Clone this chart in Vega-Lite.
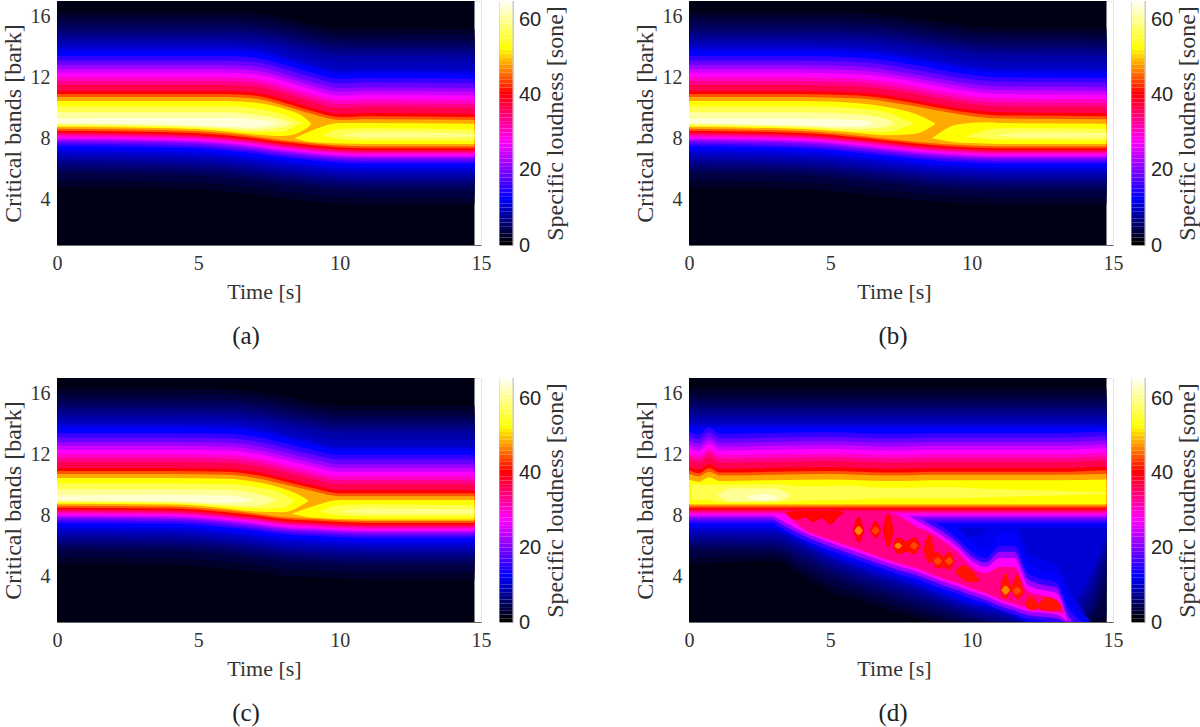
{"$schema":"https://vega.github.io/schema/vega-lite/v6.json","padding":0,"background":"white","columns":2,"spacing":{"row":27,"column":63},
"config":{"view":{"stroke":"#e6e6e6"},"concat":{"spacing":6.5},
"axis":{"grid":false,"labelFont":"Liberation Serif","titleFont":"Liberation Serif","labelFontSize":20,"titleFontSize":22,"labelColor":"#333","titleColor":"#333","titleFontWeight":"normal","domainColor":"#666","ticks":false,"labelFlush":false},
"title":{"font":"Liberation Serif","fontSize":25,"fontWeight":"normal","color":"#222","orient":"bottom","anchor":"middle","offset":22}},
"datasets":{
"bar":[{"v":0,"v2":1},{"v":1,"v2":2},{"v":2,"v2":3},{"v":3,"v2":4},{"v":4,"v2":5},{"v":5,"v2":6},{"v":6,"v2":7},{"v":7,"v2":8},{"v":8,"v2":9},{"v":9,"v2":10},{"v":10,"v2":11},{"v":11,"v2":12},{"v":12,"v2":13},{"v":13,"v2":14},{"v":14,"v2":15},{"v":15,"v2":16},{"v":16,"v2":17},{"v":17,"v2":18},{"v":18,"v2":19},{"v":19,"v2":20},{"v":20,"v2":21},{"v":21,"v2":22},{"v":22,"v2":23},{"v":23,"v2":24},{"v":24,"v2":25},{"v":25,"v2":26},{"v":26,"v2":27},{"v":27,"v2":28},{"v":28,"v2":29},{"v":29,"v2":30},{"v":30,"v2":31},{"v":31,"v2":32},{"v":32,"v2":33},{"v":33,"v2":34},{"v":34,"v2":35},{"v":35,"v2":36},{"v":36,"v2":37},{"v":37,"v2":38},{"v":38,"v2":39},{"v":39,"v2":40},{"v":40,"v2":41},{"v":41,"v2":42},{"v":42,"v2":43},{"v":43,"v2":44},{"v":44,"v2":45},{"v":45,"v2":46},{"v":46,"v2":47},{"v":47,"v2":48},{"v":48,"v2":49},{"v":49,"v2":50},{"v":50,"v2":51},{"v":51,"v2":52},{"v":52,"v2":53},{"v":53,"v2":54},{"v":54,"v2":55},{"v":55,"v2":56},{"v":56,"v2":57},{"v":57,"v2":58},{"v":58,"v2":59},{"v":59,"v2":60},{"v":60,"v2":61},{"v":61,"v2":62},{"v":62,"v2":63},{"v":63,"v2":64},{"v":64,"v2":65},{"v":65,"v2":65.5}],
"a":[{"v":1,"t":0,"lo":1,"hi":17},{"v":1,"t":14.77,"lo":1,"hi":17},
{"v":2,"t":0,"lo":4.8,"hi":16.3},{"v":2,"t":4,"lo":4.7,"hi":16.3},{"v":2,"t":6,"lo":4.5,"hi":16.3},{"v":2,"t":7,"lo":4.3,"hi":16.2},{"v":2,"t":8,"lo":4.05,"hi":15.9},{"v":2,"t":9,"lo":3.85,"hi":15.5},{"v":2,"t":10,"lo":3.7,"hi":15.2},{"v":2,"t":11,"lo":3.65,"hi":15.2},{"v":2,"t":14.77,"lo":3.65,"hi":15.15},
{"v":3,"t":0,"lo":5.25,"hi":15.95},{"v":3,"t":4,"lo":5.15,"hi":15.95},{"v":3,"t":6,"lo":4.95,"hi":15.95},{"v":3,"t":7,"lo":4.75,"hi":15.85},{"v":3,"t":8,"lo":4.5,"hi":15.55},{"v":3,"t":9,"lo":4.3,"hi":15.15},{"v":3,"t":10,"lo":4.15,"hi":14.85},{"v":3,"t":11,"lo":4.1,"hi":14.85},{"v":3,"t":14.77,"lo":4.1,"hi":14.8},
{"v":4,"t":0,"lo":5.7,"hi":15.6},{"v":4,"t":4,"lo":5.6,"hi":15.6},{"v":4,"t":6,"lo":5.4,"hi":15.6},{"v":4,"t":7,"lo":5.2,"hi":15.5},{"v":4,"t":8,"lo":4.95,"hi":15.2},{"v":4,"t":9,"lo":4.75,"hi":14.8},{"v":4,"t":10,"lo":4.6,"hi":14.5},{"v":4,"t":11,"lo":4.55,"hi":14.5},{"v":4,"t":14.77,"lo":4.55,"hi":14.45},
{"v":5,"t":0,"lo":5.95,"hi":15.3},{"v":5,"t":4,"lo":5.85,"hi":15.3},{"v":5,"t":6,"lo":5.65,"hi":15.3},{"v":5,"t":7,"lo":5.45,"hi":15.2},{"v":5,"t":8,"lo":5.2,"hi":14.9},{"v":5,"t":9,"lo":5,"hi":14.5},{"v":5,"t":10,"lo":4.85,"hi":14.2},{"v":5,"t":11,"lo":4.8,"hi":14.2},{"v":5,"t":14.77,"lo":4.8,"hi":14.15},
{"v":6,"t":0,"lo":6.2,"hi":15},{"v":6,"t":4,"lo":6.1,"hi":15},{"v":6,"t":6,"lo":5.9,"hi":15},{"v":6,"t":7,"lo":5.7,"hi":14.9},{"v":6,"t":8,"lo":5.45,"hi":14.6},{"v":6,"t":9,"lo":5.25,"hi":14.2},{"v":6,"t":10,"lo":5.1,"hi":13.9},{"v":6,"t":11,"lo":5.05,"hi":13.9},{"v":6,"t":14.77,"lo":5.05,"hi":13.85},
{"v":7,"t":0,"lo":6.4,"hi":14.75},{"v":7,"t":4,"lo":6.3,"hi":14.75},{"v":7,"t":6,"lo":6.1,"hi":14.75},{"v":7,"t":7,"lo":5.9,"hi":14.65},{"v":7,"t":8,"lo":5.65,"hi":14.35},{"v":7,"t":9,"lo":5.45,"hi":13.95},{"v":7,"t":10,"lo":5.3,"hi":13.65},{"v":7,"t":11,"lo":5.25,"hi":13.65},{"v":7,"t":14.77,"lo":5.25,"hi":13.6},
{"v":8,"t":0,"lo":6.6,"hi":14.5},{"v":8,"t":4,"lo":6.5,"hi":14.5},{"v":8,"t":6,"lo":6.3,"hi":14.5},{"v":8,"t":7,"lo":6.1,"hi":14.4},{"v":8,"t":8,"lo":5.85,"hi":14.1},{"v":8,"t":9,"lo":5.65,"hi":13.7},{"v":8,"t":10,"lo":5.5,"hi":13.4},{"v":8,"t":11,"lo":5.45,"hi":13.4},{"v":8,"t":14.77,"lo":5.45,"hi":13.35},
{"v":9,"t":0,"lo":6.8,"hi":14.25},{"v":9,"t":4,"lo":6.7,"hi":14.25},{"v":9,"t":6,"lo":6.5,"hi":14.25},{"v":9,"t":7,"lo":6.3,"hi":14.15},{"v":9,"t":8,"lo":6.05,"hi":13.8},{"v":9,"t":9,"lo":5.85,"hi":13.3},{"v":9,"t":10,"lo":5.7,"hi":12.95},{"v":9,"t":11,"lo":5.65,"hi":13},{"v":9,"t":14.77,"lo":5.65,"hi":12.95},
{"v":10,"t":0,"lo":7,"hi":14},{"v":10,"t":4,"lo":6.9,"hi":14},{"v":10,"t":6,"lo":6.7,"hi":14},{"v":10,"t":7,"lo":6.5,"hi":13.9},{"v":10,"t":8,"lo":6.25,"hi":13.45},{"v":10,"t":9,"lo":6.05,"hi":12.9},{"v":10,"t":10,"lo":5.9,"hi":12.5},{"v":10,"t":11,"lo":5.85,"hi":12.55},{"v":10,"t":14.77,"lo":5.85,"hi":12.5},
{"v":11,"t":0,"lo":7.15,"hi":13.85},{"v":11,"t":4,"lo":7.05,"hi":13.85},{"v":11,"t":6,"lo":6.85,"hi":13.85},{"v":11,"t":7,"lo":6.65,"hi":13.75},{"v":11,"t":8,"lo":6.4,"hi":13.3},{"v":11,"t":9,"lo":6.2,"hi":12.75},{"v":11,"t":10,"lo":6.05,"hi":12.35},{"v":11,"t":11,"lo":6,"hi":12.4},{"v":11,"t":14.77,"lo":6,"hi":12.35},
{"v":12,"t":0,"lo":7.3,"hi":13.7},{"v":12,"t":4,"lo":7.2,"hi":13.7},{"v":12,"t":6,"lo":7,"hi":13.7},{"v":12,"t":7,"lo":6.8,"hi":13.6},{"v":12,"t":8,"lo":6.55,"hi":13.15},{"v":12,"t":9,"lo":6.35,"hi":12.6},{"v":12,"t":10,"lo":6.2,"hi":12.2},{"v":12,"t":11,"lo":6.15,"hi":12.25},{"v":12,"t":14.77,"lo":6.15,"hi":12.2},
{"v":15,"t":0,"lo":7.5,"hi":13.4},{"v":15,"t":4,"lo":7.4,"hi":13.4},{"v":15,"t":6,"lo":7.2,"hi":13.4},{"v":15,"t":7,"lo":7,"hi":13.3},{"v":15,"t":8,"lo":6.75,"hi":12.85},{"v":15,"t":9,"lo":6.55,"hi":12.3},{"v":15,"t":10,"lo":6.4,"hi":11.9},{"v":15,"t":11,"lo":6.35,"hi":11.95},{"v":15,"t":14.77,"lo":6.35,"hi":11.9},
{"v":18,"t":0,"lo":7.65,"hi":13.1},{"v":18,"t":4,"lo":7.55,"hi":13.1},{"v":18,"t":6,"lo":7.35,"hi":13.1},{"v":18,"t":7,"lo":7.15,"hi":13},{"v":18,"t":8,"lo":6.9,"hi":12.55},{"v":18,"t":9,"lo":6.7,"hi":12},{"v":18,"t":10,"lo":6.55,"hi":11.6},{"v":18,"t":11,"lo":6.5,"hi":11.65},{"v":18,"t":14.77,"lo":6.5,"hi":11.6},
{"v":21,"t":0,"lo":7.8,"hi":12.8},{"v":21,"t":4,"lo":7.7,"hi":12.8},{"v":21,"t":6,"lo":7.5,"hi":12.8},{"v":21,"t":7,"lo":7.3,"hi":12.7},{"v":21,"t":8,"lo":7.05,"hi":12.25},{"v":21,"t":9,"lo":6.85,"hi":11.7},{"v":21,"t":10,"lo":6.7,"hi":11.3},{"v":21,"t":11,"lo":6.65,"hi":11.35},{"v":21,"t":14.77,"lo":6.65,"hi":11.3},
{"v":24,"t":0,"lo":7.9,"hi":12.55},{"v":24,"t":4,"lo":7.8,"hi":12.55},{"v":24,"t":6,"lo":7.6,"hi":12.55},{"v":24,"t":7,"lo":7.4,"hi":12.45},{"v":24,"t":8,"lo":7.15,"hi":12},{"v":24,"t":9,"lo":6.95,"hi":11.45},{"v":24,"t":10,"lo":6.8,"hi":11.05},{"v":24,"t":11,"lo":6.75,"hi":11.1},{"v":24,"t":14.77,"lo":6.75,"hi":11.05},
{"v":27,"t":0,"lo":8,"hi":12.3},{"v":27,"t":4,"lo":7.9,"hi":12.3},{"v":27,"t":6,"lo":7.7,"hi":12.3},{"v":27,"t":7,"lo":7.5,"hi":12.2},{"v":27,"t":8,"lo":7.25,"hi":11.75},{"v":27,"t":9,"lo":7.05,"hi":11.2},{"v":27,"t":10,"lo":6.9,"hi":10.8},{"v":27,"t":11,"lo":6.85,"hi":10.85},{"v":27,"t":14.77,"lo":6.85,"hi":10.8},
{"v":30,"t":0,"lo":8.1,"hi":12},{"v":30,"t":4,"lo":8,"hi":12},{"v":30,"t":6,"lo":7.8,"hi":12},{"v":30,"t":7,"lo":7.6,"hi":11.9},{"v":30,"t":8,"lo":7.35,"hi":11.45},{"v":30,"t":9,"lo":7.15,"hi":10.9},{"v":30,"t":10,"lo":7,"hi":10.5},{"v":30,"t":11,"lo":6.95,"hi":10.55},{"v":30,"t":14.77,"lo":6.95,"hi":10.5},
{"v":33,"t":0,"lo":8.2,"hi":11.75},{"v":33,"t":4,"lo":8.1,"hi":11.75},{"v":33,"t":6,"lo":7.9,"hi":11.75},{"v":33,"t":7,"lo":7.7,"hi":11.65},{"v":33,"t":8,"lo":7.45,"hi":11.2},{"v":33,"t":9,"lo":7.25,"hi":10.65},{"v":33,"t":10,"lo":7.1,"hi":10.25},{"v":33,"t":11,"lo":7.05,"hi":10.3},{"v":33,"t":14.77,"lo":7.05,"hi":10.25},
{"v":36,"t":0,"lo":8.28,"hi":11.5},{"v":36,"t":4,"lo":8.18,"hi":11.5},{"v":36,"t":6,"lo":7.98,"hi":11.5},{"v":36,"t":7,"lo":7.78,"hi":11.4},{"v":36,"t":8,"lo":7.53,"hi":10.95},{"v":36,"t":9,"lo":7.33,"hi":10.4},{"v":36,"t":10,"lo":7.18,"hi":10},{"v":36,"t":11,"lo":7.13,"hi":10.05},{"v":36,"t":14.77,"lo":7.13,"hi":10},
{"v":40,"t":0,"lo":8.37,"hi":11.1},{"v":40,"t":4,"lo":8.27,"hi":11.1},{"v":40,"t":6,"lo":8.07,"hi":11.1},{"v":40,"t":7,"lo":7.87,"hi":11},{"v":40,"t":8,"lo":7.62,"hi":10.55},{"v":40,"t":9,"lo":7.42,"hi":10},{"v":40,"t":10,"lo":7.27,"hi":9.6},{"v":40,"t":11,"lo":7.22,"hi":9.65},{"v":40,"t":14.77,"lo":7.22,"hi":9.6},
{"v":44,"t":0,"lo":8.5,"hi":10.9},{"v":44,"t":4,"lo":8.4,"hi":10.9},{"v":44,"t":6,"lo":8.2,"hi":10.9},{"v":44,"t":7,"lo":8,"hi":10.8},{"v":44,"t":8,"lo":7.75,"hi":10.35},{"v":44,"t":9,"lo":7.55,"hi":9.8},{"v":44,"t":10,"lo":7.4,"hi":9.4},{"v":44,"t":11,"lo":7.35,"hi":9.45},{"v":44,"t":14.77,"lo":7.35,"hi":9.4},
{"v":48,"t":0,"lo":8.62,"hi":10.7},{"v":48,"t":4,"lo":8.52,"hi":10.7},{"v":48,"t":6,"lo":8.32,"hi":10.7},{"v":48,"t":7,"lo":8.12,"hi":10.6},{"v":48,"t":8,"lo":7.87,"hi":10.15},{"v":48,"t":9,"lo":7.67,"hi":9.6},{"v":48,"t":10,"lo":7.52,"hi":9.2},{"v":48,"t":11,"lo":7.47,"hi":9.25},{"v":48,"t":14.77,"lo":7.47,"hi":9.2},
{"v":52,"t":0,"lo":8.75,"hi":10.45},{"v":52,"t":4,"lo":8.65,"hi":10.45},{"v":52,"t":6,"lo":8.45,"hi":10.45},{"v":52,"t":7,"lo":8.25,"hi":10.35},{"v":52,"t":8,"lo":8.15,"hi":9.95},{"v":52,"t":8.8,"lo":8.6,"hi":9.3},{"v":52,"t":9,"lo":8.95,"hi":8.95},
{"v":52.1,"t":8.4,"lo":8,"hi":8},{"v":52.1,"t":9,"lo":7.75,"hi":8.5},{"v":52.1,"t":10,"lo":7.65,"hi":9},{"v":52.1,"t":11,"lo":7.62,"hi":9},{"v":52.1,"t":14.77,"lo":7.62,"hi":8.95},
{"v":56,"t":0,"lo":8.82,"hi":10.1},{"v":56,"t":4,"lo":8.72,"hi":10.1},{"v":56,"t":6,"lo":8.55,"hi":10.1},{"v":56,"t":7,"lo":8.4,"hi":9.95},{"v":56,"t":8,"lo":8.45,"hi":9.55},{"v":56,"t":8.5,"lo":8.85,"hi":9.15},{"v":56,"t":8.7,"lo":9,"hi":9},
{"v":56.1,"t":9.4,"lo":8.2,"hi":8.2},{"v":56.1,"t":10,"lo":7.95,"hi":8.6},{"v":56.1,"t":11,"lo":7.85,"hi":8.65},{"v":56.1,"t":14.77,"lo":7.85,"hi":8.55},
{"v":59.1,"t":10,"lo":8.2,"hi":8.2},{"v":59.1,"t":11,"lo":8.05,"hi":8.4},{"v":59.1,"t":13,"lo":8.05,"hi":8.4},{"v":59.1,"t":14.77,"lo":8.1,"hi":8.3},
{"v":60,"t":0,"lo":8.9,"hi":9.7},{"v":60,"t":4,"lo":8.8,"hi":9.7},{"v":60,"t":6,"lo":8.65,"hi":9.7},{"v":60,"t":7,"lo":8.55,"hi":9.55},{"v":60,"t":8,"lo":8.75,"hi":9.2},{"v":60,"t":8.3,"lo":9,"hi":9},
{"v":63,"t":0,"lo":8.98,"hi":9.3},{"v":63,"t":4,"lo":8.9,"hi":9.35},{"v":63,"t":6,"lo":8.75,"hi":9.35},{"v":63,"t":7,"lo":8.7,"hi":9.25},{"v":63,"t":7.8,"lo":9,"hi":9.05}],
"b":[{"v":1,"t":0,"lo":1,"hi":17},{"v":1,"t":14.77,"lo":1,"hi":17},
{"v":2,"t":0,"lo":4.8,"hi":16.3},{"v":2,"t":4,"lo":4.65,"hi":16.3},{"v":2,"t":6,"lo":4.35,"hi":16.22},{"v":2,"t":7,"lo":4.15,"hi":16.08},{"v":2,"t":8,"lo":3.95,"hi":15.85},{"v":2,"t":9,"lo":3.8,"hi":15.6},{"v":2,"t":10,"lo":3.7,"hi":15.35},{"v":2,"t":11,"lo":3.65,"hi":15.25},{"v":2,"t":14.77,"lo":3.65,"hi":15.2},
{"v":3,"t":0,"lo":5.25,"hi":15.95},{"v":3,"t":4,"lo":5.1,"hi":15.95},{"v":3,"t":6,"lo":4.8,"hi":15.87},{"v":3,"t":7,"lo":4.6,"hi":15.73},{"v":3,"t":8,"lo":4.4,"hi":15.5},{"v":3,"t":9,"lo":4.25,"hi":15.25},{"v":3,"t":10,"lo":4.15,"hi":15},{"v":3,"t":11,"lo":4.1,"hi":14.9},{"v":3,"t":14.77,"lo":4.1,"hi":14.85},
{"v":4,"t":0,"lo":5.7,"hi":15.6},{"v":4,"t":4,"lo":5.55,"hi":15.6},{"v":4,"t":6,"lo":5.25,"hi":15.52},{"v":4,"t":7,"lo":5.05,"hi":15.38},{"v":4,"t":8,"lo":4.85,"hi":15.15},{"v":4,"t":9,"lo":4.7,"hi":14.9},{"v":4,"t":10,"lo":4.6,"hi":14.65},{"v":4,"t":11,"lo":4.55,"hi":14.55},{"v":4,"t":14.77,"lo":4.55,"hi":14.5},
{"v":5,"t":0,"lo":5.95,"hi":15.3},{"v":5,"t":4,"lo":5.8,"hi":15.3},{"v":5,"t":6,"lo":5.5,"hi":15.22},{"v":5,"t":7,"lo":5.3,"hi":15.08},{"v":5,"t":8,"lo":5.1,"hi":14.85},{"v":5,"t":9,"lo":4.95,"hi":14.6},{"v":5,"t":10,"lo":4.85,"hi":14.35},{"v":5,"t":11,"lo":4.8,"hi":14.25},{"v":5,"t":14.77,"lo":4.8,"hi":14.2},
{"v":6,"t":0,"lo":6.2,"hi":15},{"v":6,"t":4,"lo":6.05,"hi":15},{"v":6,"t":6,"lo":5.75,"hi":14.92},{"v":6,"t":7,"lo":5.55,"hi":14.78},{"v":6,"t":8,"lo":5.35,"hi":14.55},{"v":6,"t":9,"lo":5.2,"hi":14.3},{"v":6,"t":10,"lo":5.1,"hi":14.05},{"v":6,"t":11,"lo":5.05,"hi":13.95},{"v":6,"t":14.77,"lo":5.05,"hi":13.9},
{"v":7,"t":0,"lo":6.4,"hi":14.75},{"v":7,"t":4,"lo":6.25,"hi":14.75},{"v":7,"t":6,"lo":5.95,"hi":14.67},{"v":7,"t":7,"lo":5.75,"hi":14.53},{"v":7,"t":8,"lo":5.55,"hi":14.3},{"v":7,"t":9,"lo":5.4,"hi":14.05},{"v":7,"t":10,"lo":5.3,"hi":13.8},{"v":7,"t":11,"lo":5.25,"hi":13.7},{"v":7,"t":14.77,"lo":5.25,"hi":13.65},
{"v":8,"t":0,"lo":6.6,"hi":14.5},{"v":8,"t":4,"lo":6.45,"hi":14.5},{"v":8,"t":6,"lo":6.15,"hi":14.42},{"v":8,"t":7,"lo":5.95,"hi":14.28},{"v":8,"t":8,"lo":5.75,"hi":14.05},{"v":8,"t":9,"lo":5.6,"hi":13.8},{"v":8,"t":10,"lo":5.5,"hi":13.55},{"v":8,"t":11,"lo":5.45,"hi":13.45},{"v":8,"t":14.77,"lo":5.45,"hi":13.4},
{"v":9,"t":0,"lo":6.8,"hi":14.25},{"v":9,"t":4,"lo":6.65,"hi":14.25},{"v":9,"t":6,"lo":6.35,"hi":14.16},{"v":9,"t":7,"lo":6.15,"hi":13.99},{"v":9,"t":8,"lo":5.95,"hi":13.72},{"v":9,"t":9,"lo":5.8,"hi":13.42},{"v":9,"t":10,"lo":5.7,"hi":13.15},{"v":9,"t":11,"lo":5.65,"hi":13.02},{"v":9,"t":14.77,"lo":5.65,"hi":12.97},
{"v":10,"t":0,"lo":7,"hi":14},{"v":10,"t":4,"lo":6.85,"hi":14},{"v":10,"t":6,"lo":6.55,"hi":13.9},{"v":10,"t":7,"lo":6.35,"hi":13.7},{"v":10,"t":8,"lo":6.15,"hi":13.4},{"v":10,"t":9,"lo":6,"hi":13.05},{"v":10,"t":10,"lo":5.9,"hi":12.75},{"v":10,"t":11,"lo":5.85,"hi":12.6},{"v":10,"t":14.77,"lo":5.85,"hi":12.55},
{"v":11,"t":0,"lo":7.15,"hi":13.85},{"v":11,"t":4,"lo":7,"hi":13.85},{"v":11,"t":6,"lo":6.7,"hi":13.75},{"v":11,"t":7,"lo":6.5,"hi":13.55},{"v":11,"t":8,"lo":6.3,"hi":13.25},{"v":11,"t":9,"lo":6.15,"hi":12.9},{"v":11,"t":10,"lo":6.05,"hi":12.6},{"v":11,"t":11,"lo":6,"hi":12.45},{"v":11,"t":14.77,"lo":6,"hi":12.4},
{"v":12,"t":0,"lo":7.3,"hi":13.7},{"v":12,"t":4,"lo":7.15,"hi":13.7},{"v":12,"t":6,"lo":6.85,"hi":13.6},{"v":12,"t":7,"lo":6.65,"hi":13.4},{"v":12,"t":8,"lo":6.45,"hi":13.1},{"v":12,"t":9,"lo":6.3,"hi":12.75},{"v":12,"t":10,"lo":6.2,"hi":12.45},{"v":12,"t":11,"lo":6.15,"hi":12.3},{"v":12,"t":14.77,"lo":6.15,"hi":12.25},
{"v":15,"t":0,"lo":7.5,"hi":13.4},{"v":15,"t":4,"lo":7.35,"hi":13.4},{"v":15,"t":6,"lo":7.05,"hi":13.3},{"v":15,"t":7,"lo":6.85,"hi":13.1},{"v":15,"t":8,"lo":6.65,"hi":12.8},{"v":15,"t":9,"lo":6.5,"hi":12.45},{"v":15,"t":10,"lo":6.4,"hi":12.15},{"v":15,"t":11,"lo":6.35,"hi":12},{"v":15,"t":14.77,"lo":6.35,"hi":11.95},
{"v":18,"t":0,"lo":7.65,"hi":13.1},{"v":18,"t":4,"lo":7.5,"hi":13.1},{"v":18,"t":6,"lo":7.2,"hi":13},{"v":18,"t":7,"lo":7,"hi":12.8},{"v":18,"t":8,"lo":6.8,"hi":12.5},{"v":18,"t":9,"lo":6.65,"hi":12.15},{"v":18,"t":10,"lo":6.55,"hi":11.85},{"v":18,"t":11,"lo":6.5,"hi":11.7},{"v":18,"t":14.77,"lo":6.5,"hi":11.65},
{"v":21,"t":0,"lo":7.8,"hi":12.8},{"v":21,"t":4,"lo":7.65,"hi":12.8},{"v":21,"t":6,"lo":7.35,"hi":12.7},{"v":21,"t":7,"lo":7.15,"hi":12.5},{"v":21,"t":8,"lo":6.95,"hi":12.2},{"v":21,"t":9,"lo":6.8,"hi":11.85},{"v":21,"t":10,"lo":6.7,"hi":11.55},{"v":21,"t":11,"lo":6.65,"hi":11.4},{"v":21,"t":14.77,"lo":6.65,"hi":11.35},
{"v":24,"t":0,"lo":7.9,"hi":12.55},{"v":24,"t":4,"lo":7.75,"hi":12.55},{"v":24,"t":6,"lo":7.45,"hi":12.45},{"v":24,"t":7,"lo":7.25,"hi":12.25},{"v":24,"t":8,"lo":7.05,"hi":11.95},{"v":24,"t":9,"lo":6.9,"hi":11.6},{"v":24,"t":10,"lo":6.8,"hi":11.3},{"v":24,"t":11,"lo":6.75,"hi":11.15},{"v":24,"t":14.77,"lo":6.75,"hi":11.1},
{"v":27,"t":0,"lo":8,"hi":12.3},{"v":27,"t":4,"lo":7.85,"hi":12.3},{"v":27,"t":6,"lo":7.55,"hi":12.2},{"v":27,"t":7,"lo":7.35,"hi":12},{"v":27,"t":8,"lo":7.15,"hi":11.7},{"v":27,"t":9,"lo":7,"hi":11.35},{"v":27,"t":10,"lo":6.9,"hi":11.05},{"v":27,"t":11,"lo":6.85,"hi":10.9},{"v":27,"t":14.77,"lo":6.85,"hi":10.85},
{"v":30,"t":0,"lo":8.1,"hi":12},{"v":30,"t":4,"lo":7.95,"hi":12},{"v":30,"t":6,"lo":7.65,"hi":11.9},{"v":30,"t":7,"lo":7.45,"hi":11.7},{"v":30,"t":8,"lo":7.25,"hi":11.4},{"v":30,"t":9,"lo":7.1,"hi":11.05},{"v":30,"t":10,"lo":7,"hi":10.75},{"v":30,"t":11,"lo":6.95,"hi":10.6},{"v":30,"t":14.77,"lo":6.95,"hi":10.55},
{"v":33,"t":0,"lo":8.2,"hi":11.75},{"v":33,"t":4,"lo":8.05,"hi":11.75},{"v":33,"t":6,"lo":7.75,"hi":11.65},{"v":33,"t":7,"lo":7.55,"hi":11.45},{"v":33,"t":8,"lo":7.35,"hi":11.15},{"v":33,"t":9,"lo":7.2,"hi":10.8},{"v":33,"t":10,"lo":7.1,"hi":10.5},{"v":33,"t":11,"lo":7.05,"hi":10.35},{"v":33,"t":14.77,"lo":7.05,"hi":10.3},
{"v":36,"t":0,"lo":8.28,"hi":11.5},{"v":36,"t":4,"lo":8.13,"hi":11.5},{"v":36,"t":6,"lo":7.83,"hi":11.4},{"v":36,"t":7,"lo":7.63,"hi":11.2},{"v":36,"t":8,"lo":7.43,"hi":10.9},{"v":36,"t":9,"lo":7.28,"hi":10.55},{"v":36,"t":10,"lo":7.18,"hi":10.25},{"v":36,"t":11,"lo":7.13,"hi":10.1},{"v":36,"t":14.77,"lo":7.13,"hi":10.05},
{"v":40,"t":0,"lo":8.37,"hi":11.1},{"v":40,"t":4,"lo":8.22,"hi":11.1},{"v":40,"t":6,"lo":7.92,"hi":11},{"v":40,"t":7,"lo":7.72,"hi":10.8},{"v":40,"t":8,"lo":7.52,"hi":10.5},{"v":40,"t":9,"lo":7.37,"hi":10.15},{"v":40,"t":10,"lo":7.27,"hi":9.85},{"v":40,"t":11,"lo":7.22,"hi":9.7},{"v":40,"t":14.77,"lo":7.22,"hi":9.65},
{"v":44,"t":0,"lo":8.5,"hi":10.9},{"v":44,"t":4,"lo":8.35,"hi":10.9},{"v":44,"t":6,"lo":8.05,"hi":10.8},{"v":44,"t":7,"lo":7.85,"hi":10.6},{"v":44,"t":8,"lo":7.65,"hi":10.3},{"v":44,"t":9,"lo":7.5,"hi":9.95},{"v":44,"t":10,"lo":7.4,"hi":9.65},{"v":44,"t":11,"lo":7.35,"hi":9.5},{"v":44,"t":14.77,"lo":7.35,"hi":9.45},
{"v":48,"t":0,"lo":8.62,"hi":10.7},{"v":48,"t":4,"lo":8.47,"hi":10.7},{"v":48,"t":6,"lo":8.17,"hi":10.6},{"v":48,"t":7,"lo":7.97,"hi":10.4},{"v":48,"t":8,"lo":7.77,"hi":10.1},{"v":48,"t":9,"lo":7.62,"hi":9.75},{"v":48,"t":10,"lo":7.52,"hi":9.45},{"v":48,"t":11,"lo":7.47,"hi":9.3},{"v":48,"t":14.77,"lo":7.47,"hi":9.25},
{"v":52,"t":0,"lo":8.75,"hi":10.45},{"v":52,"t":4,"lo":8.6,"hi":10.45},{"v":52,"t":6,"lo":8.35,"hi":10.3},{"v":52,"t":7,"lo":8.2,"hi":10.05},{"v":52,"t":8,"lo":8.3,"hi":9.6},{"v":52,"t":8.7,"lo":8.9,"hi":9},
{"v":52.1,"t":8.6,"lo":8,"hi":8},{"v":52.1,"t":9.5,"lo":7.72,"hi":8.9},{"v":52.1,"t":10.5,"lo":7.65,"hi":9.05},{"v":52.1,"t":11,"lo":7.62,"hi":9},{"v":52.1,"t":14.77,"lo":7.62,"hi":8.95},
{"v":56,"t":0,"lo":8.82,"hi":10.1},{"v":56,"t":4,"lo":8.68,"hi":10.1},{"v":56,"t":6,"lo":8.45,"hi":9.95},{"v":56,"t":7,"lo":8.4,"hi":9.7},{"v":56,"t":7.8,"lo":8.85,"hi":9.1},{"v":56,"t":8,"lo":9,"hi":9},
{"v":56.1,"t":9.8,"lo":8.1,"hi":8.1},{"v":56.1,"t":11,"lo":7.9,"hi":8.65},{"v":56.1,"t":14.77,"lo":7.85,"hi":8.6},
{"v":59.1,"t":10.8,"lo":8.2,"hi":8.2},{"v":59.1,"t":12,"lo":8.05,"hi":8.4},{"v":59.1,"t":14.77,"lo":8.05,"hi":8.35},
{"v":60,"t":0,"lo":8.9,"hi":9.7},{"v":60,"t":4,"lo":8.75,"hi":9.7},{"v":60,"t":6,"lo":8.6,"hi":9.55},{"v":60,"t":7,"lo":8.75,"hi":9.25},{"v":60,"t":7.3,"lo":9,"hi":9},
{"v":63,"t":0,"lo":8.98,"hi":9.3},{"v":63,"t":4,"lo":8.85,"hi":9.3},{"v":63,"t":6,"lo":8.75,"hi":9.2},{"v":63,"t":6.6,"lo":9,"hi":9}],
"c":[{"v":1,"t":0,"lo":1,"hi":17},{"v":1,"t":14.77,"lo":1,"hi":17},
{"v":2,"t":0,"lo":4.8,"hi":16.3},{"v":2,"t":4,"lo":4.75,"hi":16.3},{"v":2,"t":6,"lo":4.5,"hi":16.26},{"v":2,"t":7,"lo":4.3,"hi":16.1},{"v":2,"t":8,"lo":4.05,"hi":15.8},{"v":2,"t":9,"lo":3.95,"hi":15.45},{"v":2,"t":10,"lo":3.85,"hi":15.2},{"v":2,"t":11,"lo":3.8,"hi":15.2},{"v":2,"t":14.77,"lo":3.8,"hi":15.2},
{"v":3,"t":0,"lo":5.25,"hi":15.95},{"v":3,"t":4,"lo":5.2,"hi":15.95},{"v":3,"t":6,"lo":4.95,"hi":15.91},{"v":3,"t":7,"lo":4.75,"hi":15.75},{"v":3,"t":8,"lo":4.5,"hi":15.45},{"v":3,"t":9,"lo":4.4,"hi":15.1},{"v":3,"t":10,"lo":4.3,"hi":14.85},{"v":3,"t":11,"lo":4.25,"hi":14.85},{"v":3,"t":14.77,"lo":4.25,"hi":14.85},
{"v":4,"t":0,"lo":5.7,"hi":15.6},{"v":4,"t":4,"lo":5.65,"hi":15.6},{"v":4,"t":6,"lo":5.4,"hi":15.56},{"v":4,"t":7,"lo":5.2,"hi":15.4},{"v":4,"t":8,"lo":4.95,"hi":15.1},{"v":4,"t":9,"lo":4.85,"hi":14.75},{"v":4,"t":10,"lo":4.75,"hi":14.5},{"v":4,"t":11,"lo":4.7,"hi":14.5},{"v":4,"t":14.77,"lo":4.7,"hi":14.5},
{"v":5,"t":0,"lo":5.95,"hi":15.3},{"v":5,"t":4,"lo":5.9,"hi":15.3},{"v":5,"t":6,"lo":5.65,"hi":15.26},{"v":5,"t":7,"lo":5.45,"hi":15.1},{"v":5,"t":8,"lo":5.2,"hi":14.8},{"v":5,"t":9,"lo":5.1,"hi":14.45},{"v":5,"t":10,"lo":5,"hi":14.2},{"v":5,"t":11,"lo":4.95,"hi":14.2},{"v":5,"t":14.77,"lo":4.95,"hi":14.2},
{"v":6,"t":0,"lo":6.2,"hi":15},{"v":6,"t":4,"lo":6.15,"hi":15},{"v":6,"t":6,"lo":5.9,"hi":14.96},{"v":6,"t":7,"lo":5.7,"hi":14.8},{"v":6,"t":8,"lo":5.45,"hi":14.5},{"v":6,"t":9,"lo":5.35,"hi":14.15},{"v":6,"t":10,"lo":5.25,"hi":13.9},{"v":6,"t":11,"lo":5.2,"hi":13.9},{"v":6,"t":14.77,"lo":5.2,"hi":13.9},
{"v":7,"t":0,"lo":6.4,"hi":14.75},{"v":7,"t":4,"lo":6.35,"hi":14.75},{"v":7,"t":6,"lo":6.1,"hi":14.71},{"v":7,"t":7,"lo":5.9,"hi":14.55},{"v":7,"t":8,"lo":5.65,"hi":14.25},{"v":7,"t":9,"lo":5.55,"hi":13.9},{"v":7,"t":10,"lo":5.45,"hi":13.65},{"v":7,"t":11,"lo":5.4,"hi":13.65},{"v":7,"t":14.77,"lo":5.4,"hi":13.65},
{"v":8,"t":0,"lo":6.6,"hi":14.5},{"v":8,"t":4,"lo":6.55,"hi":14.5},{"v":8,"t":6,"lo":6.3,"hi":14.46},{"v":8,"t":7,"lo":6.1,"hi":14.3},{"v":8,"t":8,"lo":5.85,"hi":14},{"v":8,"t":9,"lo":5.75,"hi":13.65},{"v":8,"t":10,"lo":5.65,"hi":13.4},{"v":8,"t":11,"lo":5.6,"hi":13.4},{"v":8,"t":14.77,"lo":5.6,"hi":13.4},
{"v":9,"t":0,"lo":6.8,"hi":14.25},{"v":9,"t":4,"lo":6.75,"hi":14.25},{"v":9,"t":6,"lo":6.5,"hi":14.2},{"v":9,"t":7,"lo":6.3,"hi":14.02},{"v":9,"t":8,"lo":6.05,"hi":13.67},{"v":9,"t":9,"lo":5.95,"hi":13.27},{"v":9,"t":10,"lo":5.85,"hi":12.97},{"v":9,"t":11,"lo":5.8,"hi":12.97},{"v":9,"t":14.77,"lo":5.8,"hi":12.97},
{"v":10,"t":0,"lo":7,"hi":14},{"v":10,"t":4,"lo":6.95,"hi":14},{"v":10,"t":6,"lo":6.7,"hi":13.95},{"v":10,"t":7,"lo":6.5,"hi":13.75},{"v":10,"t":8,"lo":6.25,"hi":13.35},{"v":10,"t":9,"lo":6.15,"hi":12.9},{"v":10,"t":10,"lo":6.05,"hi":12.55},{"v":10,"t":11,"lo":6,"hi":12.55},{"v":10,"t":14.77,"lo":6,"hi":12.55},
{"v":11,"t":0,"lo":7.15,"hi":13.85},{"v":11,"t":4,"lo":7.1,"hi":13.85},{"v":11,"t":6,"lo":6.85,"hi":13.8},{"v":11,"t":7,"lo":6.65,"hi":13.6},{"v":11,"t":8,"lo":6.4,"hi":13.2},{"v":11,"t":9,"lo":6.3,"hi":12.75},{"v":11,"t":10,"lo":6.2,"hi":12.4},{"v":11,"t":11,"lo":6.15,"hi":12.4},{"v":11,"t":14.77,"lo":6.15,"hi":12.4},
{"v":12,"t":0,"lo":7.3,"hi":13.7},{"v":12,"t":4,"lo":7.25,"hi":13.7},{"v":12,"t":6,"lo":7,"hi":13.65},{"v":12,"t":7,"lo":6.8,"hi":13.45},{"v":12,"t":8,"lo":6.55,"hi":13.05},{"v":12,"t":9,"lo":6.45,"hi":12.6},{"v":12,"t":10,"lo":6.35,"hi":12.25},{"v":12,"t":11,"lo":6.3,"hi":12.25},{"v":12,"t":14.77,"lo":6.3,"hi":12.25},
{"v":15,"t":0,"lo":7.5,"hi":13.4},{"v":15,"t":4,"lo":7.45,"hi":13.4},{"v":15,"t":6,"lo":7.2,"hi":13.35},{"v":15,"t":7,"lo":7,"hi":13.15},{"v":15,"t":8,"lo":6.75,"hi":12.75},{"v":15,"t":9,"lo":6.65,"hi":12.3},{"v":15,"t":10,"lo":6.55,"hi":11.95},{"v":15,"t":11,"lo":6.5,"hi":11.95},{"v":15,"t":14.77,"lo":6.5,"hi":11.95},
{"v":18,"t":0,"lo":7.65,"hi":13.1},{"v":18,"t":4,"lo":7.6,"hi":13.1},{"v":18,"t":6,"lo":7.35,"hi":13.05},{"v":18,"t":7,"lo":7.15,"hi":12.85},{"v":18,"t":8,"lo":6.9,"hi":12.45},{"v":18,"t":9,"lo":6.8,"hi":12},{"v":18,"t":10,"lo":6.7,"hi":11.65},{"v":18,"t":11,"lo":6.65,"hi":11.65},{"v":18,"t":14.77,"lo":6.65,"hi":11.65},
{"v":21,"t":0,"lo":7.8,"hi":12.8},{"v":21,"t":4,"lo":7.75,"hi":12.8},{"v":21,"t":6,"lo":7.5,"hi":12.75},{"v":21,"t":7,"lo":7.3,"hi":12.55},{"v":21,"t":8,"lo":7.05,"hi":12.15},{"v":21,"t":9,"lo":6.95,"hi":11.7},{"v":21,"t":10,"lo":6.85,"hi":11.35},{"v":21,"t":11,"lo":6.8,"hi":11.35},{"v":21,"t":14.77,"lo":6.8,"hi":11.35},
{"v":24,"t":0,"lo":7.9,"hi":12.55},{"v":24,"t":4,"lo":7.85,"hi":12.55},{"v":24,"t":6,"lo":7.6,"hi":12.5},{"v":24,"t":7,"lo":7.4,"hi":12.3},{"v":24,"t":8,"lo":7.15,"hi":11.9},{"v":24,"t":9,"lo":7.05,"hi":11.45},{"v":24,"t":10,"lo":6.95,"hi":11.1},{"v":24,"t":11,"lo":6.9,"hi":11.1},{"v":24,"t":14.77,"lo":6.9,"hi":11.1},
{"v":27,"t":0,"lo":8,"hi":12.3},{"v":27,"t":4,"lo":7.95,"hi":12.3},{"v":27,"t":6,"lo":7.7,"hi":12.25},{"v":27,"t":7,"lo":7.5,"hi":12.05},{"v":27,"t":8,"lo":7.25,"hi":11.65},{"v":27,"t":9,"lo":7.15,"hi":11.2},{"v":27,"t":10,"lo":7.05,"hi":10.85},{"v":27,"t":11,"lo":7,"hi":10.85},{"v":27,"t":14.77,"lo":7,"hi":10.85},
{"v":30,"t":0,"lo":8.1,"hi":12},{"v":30,"t":4,"lo":8.05,"hi":12},{"v":30,"t":6,"lo":7.8,"hi":11.95},{"v":30,"t":7,"lo":7.6,"hi":11.75},{"v":30,"t":8,"lo":7.35,"hi":11.35},{"v":30,"t":9,"lo":7.25,"hi":10.9},{"v":30,"t":10,"lo":7.15,"hi":10.55},{"v":30,"t":11,"lo":7.1,"hi":10.55},{"v":30,"t":14.77,"lo":7.1,"hi":10.55},
{"v":33,"t":0,"lo":8.2,"hi":11.75},{"v":33,"t":4,"lo":8.15,"hi":11.75},{"v":33,"t":6,"lo":7.9,"hi":11.7},{"v":33,"t":7,"lo":7.7,"hi":11.5},{"v":33,"t":8,"lo":7.45,"hi":11.1},{"v":33,"t":9,"lo":7.35,"hi":10.65},{"v":33,"t":10,"lo":7.25,"hi":10.3},{"v":33,"t":11,"lo":7.2,"hi":10.3},{"v":33,"t":14.77,"lo":7.2,"hi":10.3},
{"v":36,"t":0,"lo":8.28,"hi":11.5},{"v":36,"t":4,"lo":8.23,"hi":11.5},{"v":36,"t":6,"lo":7.98,"hi":11.45},{"v":36,"t":7,"lo":7.78,"hi":11.25},{"v":36,"t":8,"lo":7.53,"hi":10.85},{"v":36,"t":9,"lo":7.43,"hi":10.4},{"v":36,"t":10,"lo":7.33,"hi":10.05},{"v":36,"t":11,"lo":7.28,"hi":10.05},{"v":36,"t":14.77,"lo":7.28,"hi":10.05},
{"v":40,"t":0,"lo":8.37,"hi":11.1},{"v":40,"t":4,"lo":8.32,"hi":11.1},{"v":40,"t":6,"lo":8.07,"hi":11.05},{"v":40,"t":7,"lo":7.87,"hi":10.85},{"v":40,"t":8,"lo":7.62,"hi":10.45},{"v":40,"t":9,"lo":7.52,"hi":10},{"v":40,"t":10,"lo":7.42,"hi":9.65},{"v":40,"t":11,"lo":7.37,"hi":9.65},{"v":40,"t":14.77,"lo":7.37,"hi":9.65},
{"v":44,"t":0,"lo":8.5,"hi":10.9},{"v":44,"t":4,"lo":8.45,"hi":10.9},{"v":44,"t":6,"lo":8.2,"hi":10.85},{"v":44,"t":7,"lo":8,"hi":10.65},{"v":44,"t":8,"lo":7.75,"hi":10.25},{"v":44,"t":9,"lo":7.65,"hi":9.8},{"v":44,"t":10,"lo":7.55,"hi":9.45},{"v":44,"t":11,"lo":7.5,"hi":9.45},{"v":44,"t":14.77,"lo":7.5,"hi":9.45},
{"v":48,"t":0,"lo":8.62,"hi":10.7},{"v":48,"t":4,"lo":8.57,"hi":10.7},{"v":48,"t":6,"lo":8.32,"hi":10.65},{"v":48,"t":7,"lo":8.12,"hi":10.45},{"v":48,"t":8,"lo":7.87,"hi":10.05},{"v":48,"t":9,"lo":7.77,"hi":9.6},{"v":48,"t":10,"lo":7.67,"hi":9.25},{"v":48,"t":11,"lo":7.62,"hi":9.25},{"v":48,"t":14.77,"lo":7.62,"hi":9.25},
{"v":52,"t":0,"lo":8.75,"hi":10.45},{"v":52,"t":4,"lo":8.7,"hi":10.45},{"v":52,"t":6,"lo":8.45,"hi":10.4},{"v":52,"t":7,"lo":8.25,"hi":10.2},{"v":52,"t":8,"lo":8.2,"hi":9.75},{"v":52,"t":8.7,"lo":8.7,"hi":9.2},{"v":52,"t":8.9,"lo":8.95,"hi":8.95},
{"v":52.1,"t":8.3,"lo":8.1,"hi":8.1},{"v":52.1,"t":9,"lo":7.85,"hi":8.55},{"v":52.1,"t":10,"lo":7.75,"hi":9},{"v":52.1,"t":11,"lo":7.72,"hi":9},{"v":52.1,"t":14.77,"lo":7.72,"hi":9},
{"v":56,"t":0,"lo":8.82,"hi":10.1},{"v":56,"t":4,"lo":8.77,"hi":10.1},{"v":56,"t":6,"lo":8.55,"hi":10.05},{"v":56,"t":7,"lo":8.42,"hi":9.85},{"v":56,"t":8,"lo":8.5,"hi":9.4},{"v":56,"t":8.4,"lo":8.95,"hi":8.95},
{"v":56.1,"t":9.3,"lo":8.25,"hi":8.25},{"v":56.1,"t":10,"lo":8,"hi":8.65},{"v":56.1,"t":11,"lo":7.92,"hi":8.7},{"v":56.1,"t":14.77,"lo":7.92,"hi":8.65},
{"v":59.1,"t":10,"lo":8.25,"hi":8.25},{"v":59.1,"t":11,"lo":8.1,"hi":8.45},{"v":59.1,"t":14.77,"lo":8.1,"hi":8.4},
{"v":60,"t":0,"lo":8.9,"hi":9.7},{"v":60,"t":4,"lo":8.85,"hi":9.7},{"v":60,"t":6,"lo":8.65,"hi":9.65},{"v":60,"t":7,"lo":8.6,"hi":9.45},{"v":60,"t":7.8,"lo":9,"hi":9},
{"v":63,"t":0,"lo":8.98,"hi":9.3},{"v":63,"t":4,"lo":8.93,"hi":9.35},{"v":63,"t":6,"lo":8.78,"hi":9.3},{"v":63,"t":7,"lo":9,"hi":9}],
"d":[{"v":1,"t":0,"lo":1,"hi":17},{"v":1,"t":14.77,"lo":1,"hi":17},
{"v":2,"t":0,"lo":4.8,"hi":16.3},{"v":2,"t":3,"lo":5,"hi":16.3},{"v":2,"t":4,"lo":4,"hi":16.3},{"v":2,"t":5,"lo":3,"hi":16.3},{"v":2,"t":6,"lo":2.4,"hi":16.3},{"v":2,"t":7,"lo":1.8,"hi":16.3},{"v":2,"t":8,"lo":1.3,"hi":16.3},{"v":2,"t":9,"lo":1,"hi":16.3},{"v":2,"t":14.77,"lo":1,"hi":16.3},
{"v":3,"t":0,"lo":5.25,"hi":15.95},{"v":3,"t":3,"lo":5.3,"hi":15.95},{"v":3,"t":4,"lo":4.4,"hi":15.95},{"v":3,"t":5,"lo":3.45,"hi":15.95},{"v":3,"t":6,"lo":2.8,"hi":15.95},{"v":3,"t":7,"lo":2.2,"hi":15.95},{"v":3,"t":8,"lo":1.65,"hi":15.95},{"v":3,"t":9,"lo":1.2,"hi":15.95},{"v":3,"t":10,"lo":1,"hi":15.95},{"v":3,"t":14,"lo":1,"hi":15.95},{"v":3,"t":14.77,"lo":1.5,"hi":15.95},
{"v":4,"t":0,"lo":5.7,"hi":15.6},{"v":4,"t":3,"lo":5.6,"hi":15.6},{"v":4,"t":4,"lo":4.8,"hi":15.6},{"v":4,"t":5,"lo":3.9,"hi":15.6},{"v":4,"t":6,"lo":3.2,"hi":15.6},{"v":4,"t":7,"lo":2.6,"hi":15.6},{"v":4,"t":8,"lo":2,"hi":15.6},{"v":4,"t":9,"lo":1.4,"hi":15.6},{"v":4,"t":10,"lo":1,"hi":15.6},{"v":4,"t":14,"lo":1,"hi":15.6},{"v":4,"t":14.77,"lo":3,"hi":15.6},
{"v":5,"t":0,"lo":5.95,"hi":15.3},{"v":5,"t":3,"lo":5.85,"hi":15.3},{"v":5,"t":4,"lo":5.1,"hi":15.3},{"v":5,"t":5,"lo":4.2,"hi":15.3},{"v":5,"t":6,"lo":3.5,"hi":15.3},{"v":5,"t":7,"lo":2.9,"hi":15.3},{"v":5,"t":8,"lo":2.3,"hi":15.3},{"v":5,"t":9,"lo":1.7,"hi":15.3},{"v":5,"t":10,"lo":1.2,"hi":15.3},{"v":5,"t":11,"lo":1,"hi":15.3},{"v":5,"t":13,"lo":1,"hi":15.3},{"v":5,"t":14,"lo":1.2,"hi":15.3},{"v":5,"t":14.77,"lo":4,"hi":15.3},
{"v":6,"t":0,"lo":6.2,"hi":15},{"v":6,"t":3,"lo":6.1,"hi":15},{"v":6,"t":4,"lo":5.4,"hi":15},{"v":6,"t":5,"lo":4.5,"hi":15},{"v":6,"t":6,"lo":3.8,"hi":15},{"v":6,"t":7,"lo":3.2,"hi":15},{"v":6,"t":8,"lo":2.6,"hi":15},{"v":6,"t":9,"lo":2,"hi":15},{"v":6,"t":10,"lo":1.4,"hi":15},{"v":6,"t":11,"lo":1,"hi":15},{"v":6,"t":13,"lo":1,"hi":15},{"v":6,"t":14,"lo":1.5,"hi":15},{"v":6,"t":14.77,"lo":5,"hi":15},
{"v":7,"t":0,"lo":6.4,"hi":14.75},{"v":7,"t":3,"lo":6.35,"hi":14.75},{"v":7,"t":4,"lo":5.65,"hi":14.75},{"v":7,"t":5,"lo":4.75,"hi":14.75},{"v":7,"t":6,"lo":4.05,"hi":14.75},{"v":7,"t":7,"lo":3.45,"hi":14.75},{"v":7,"t":8,"lo":2.85,"hi":14.75},{"v":7,"t":9,"lo":2.2,"hi":14.75},{"v":7,"t":10,"lo":1.6,"hi":14.75},{"v":7,"t":11,"lo":1.2,"hi":14.75},{"v":7,"t":12,"lo":1,"hi":14.75},{"v":7,"t":13,"lo":1,"hi":14.75},{"v":7,"t":14,"lo":2,"hi":14.75},{"v":7,"t":14.77,"lo":5.5,"hi":14.75},
{"v":8,"t":0,"lo":6.6,"hi":14.5},{"v":8,"t":3,"lo":6.6,"hi":14.5},{"v":8,"t":4,"lo":5.9,"hi":14.5},{"v":8,"t":5,"lo":5,"hi":14.5},{"v":8,"t":6,"lo":4.3,"hi":14.5},{"v":8,"t":7,"lo":3.7,"hi":14.5},{"v":8,"t":8,"lo":3.1,"hi":14.5},{"v":8,"t":9,"lo":2.4,"hi":14.5},{"v":8,"t":10,"lo":1.8,"hi":14.5},{"v":8,"t":11,"lo":1.4,"hi":14.5},{"v":8,"t":12,"lo":1,"hi":14.5},{"v":8,"t":13,"lo":1,"hi":14.5},{"v":8,"t":14,"lo":2.5,"hi":14.5},{"v":8,"t":14.77,"lo":6,"hi":14.5},
{"v":9,"t":0,"lo":6.8,"hi":14.25},{"v":9,"t":3,"lo":6.8,"hi":14.25},{"v":9,"t":4,"lo":6.05,"hi":14.25},{"v":9,"t":5,"lo":5.15,"hi":14.25},{"v":9,"t":6,"lo":4.45,"hi":14.25},{"v":9,"t":7,"lo":3.85,"hi":14.25},{"v":9,"t":8,"lo":3.25,"hi":14.25},{"v":9,"t":9,"lo":2.55,"hi":14.25},{"v":9,"t":10,"lo":1.95,"hi":14.25},{"v":9,"t":11,"lo":1.55,"hi":14.25},{"v":9,"t":12,"lo":1.05,"hi":14.25},{"v":9,"t":13,"lo":1,"hi":14.25},{"v":9,"t":14,"lo":3,"hi":14.25},{"v":9,"t":14.77,"lo":6.3,"hi":14.25},
{"v":10,"t":0,"lo":7,"hi":14},{"v":10,"t":3,"lo":7,"hi":14},{"v":10,"t":4,"lo":6.2,"hi":14},{"v":10,"t":5,"lo":5.3,"hi":14},{"v":10,"t":6,"lo":4.6,"hi":14},{"v":10,"t":7,"lo":4,"hi":14},{"v":10,"t":8,"lo":3.4,"hi":14},{"v":10,"t":9,"lo":2.7,"hi":14},{"v":10,"t":10,"lo":2.1,"hi":14},{"v":10,"t":11,"lo":1.7,"hi":14},{"v":10,"t":12,"lo":1.05,"hi":14},{"v":10,"t":13,"lo":1,"hi":14},{"v":10,"t":14,"lo":3.5,"hi":14},{"v":10,"t":14.77,"lo":6.6,"hi":14},
{"v":11,"t":0,"lo":7.15,"hi":13.85},{"v":11,"t":14.77,"lo":7.15,"hi":13.85},
{"v":11.1,"t":3,"lo":7.15,"hi":7.3},{"v":11.1,"t":4,"lo":6.3,"hi":8.1},{"v":11.1,"t":5,"lo":5.45,"hi":8.1},{"v":11.1,"t":6,"lo":4.75,"hi":8.1},{"v":11.1,"t":7,"lo":4.2,"hi":8.1},{"v":11.1,"t":8,"lo":3.55,"hi":8.1},{"v":11.1,"t":9,"lo":2.85,"hi":7.9},{"v":11.1,"t":10,"lo":2.2,"hi":6.6},{"v":11.1,"t":11,"lo":1.85,"hi":7.3},{"v":11.1,"t":11.6,"lo":1.4,"hi":7.2},{"v":11.1,"t":12,"lo":1.05,"hi":5.5},{"v":11.1,"t":13,"lo":1,"hi":4.8},{"v":11.1,"t":13.5,"lo":1,"hi":3},{"v":11.1,"t":14.2,"lo":1,"hi":1},
{"v":12,"t":0,"lo":7.3,"hi":13.7},{"v":12,"t":14.77,"lo":7.3,"hi":13.7},
{"v":12.1,"t":3,"lo":7.3,"hi":7.5},{"v":12.1,"t":4,"lo":6.45,"hi":8.2},{"v":12.1,"t":5,"lo":5.6,"hi":8.2},{"v":12.1,"t":6,"lo":4.9,"hi":8.2},{"v":12.1,"t":7,"lo":4.37,"hi":8.2},{"v":12.1,"t":7.5,"lo":4.05,"hi":8.2},{"v":12.1,"t":8,"lo":3.7,"hi":8.2},{"v":12.1,"t":8.5,"lo":3.35,"hi":8},{"v":12.1,"t":9,"lo":3,"hi":7.7},{"v":12.1,"t":9.5,"lo":2.65,"hi":7.1},{"v":12.1,"t":10,"lo":2.3,"hi":6.2},{"v":12.1,"t":10.5,"lo":2.15,"hi":5.8},{"v":12.1,"t":11,"lo":2,"hi":6.8},{"v":12.1,"t":11.5,"lo":1.5,"hi":6.8},{"v":12.1,"t":12,"lo":1.05,"hi":4.9},{"v":12.1,"t":12.5,"lo":1,"hi":4.4},{"v":12.1,"t":13,"lo":1,"hi":4.2},{"v":12.1,"t":13.4,"lo":1,"hi":2.6},{"v":12.1,"t":14,"lo":1,"hi":1},
{"v":15,"t":0,"lo":7.5,"hi":13.5},{"v":15,"t":0.35,"lo":7.5,"hi":13.3},{"v":15,"t":0.7,"lo":7.5,"hi":13.75},{"v":15,"t":1.1,"lo":7.5,"hi":13.35},{"v":15,"t":3,"lo":7.5,"hi":13.4},{"v":15,"t":5,"lo":7.5,"hi":13.45},{"v":15,"t":7,"lo":7.5,"hi":13.35},{"v":15,"t":9,"lo":7.5,"hi":13.4},{"v":15,"t":11,"lo":7.5,"hi":13.4},{"v":15,"t":13,"lo":7.5,"hi":13.4},{"v":15,"t":14.77,"lo":7.5,"hi":13.5},
{"v":15.1,"t":3,"lo":7.45,"hi":8},{"v":15.1,"t":4,"lo":6.45,"hi":8.2},{"v":15.1,"t":5,"lo":5.7,"hi":8.2},{"v":15.1,"t":6,"lo":5.05,"hi":8.2},{"v":15.1,"t":7,"lo":4.4,"hi":8.2},{"v":15.1,"t":7.5,"lo":4.1,"hi":8.2},{"v":15.1,"t":8,"lo":3.85,"hi":8.1},{"v":15.1,"t":8.5,"lo":3.5,"hi":7.7},{"v":15.1,"t":9,"lo":3.15,"hi":7.2},{"v":15.1,"t":9.5,"lo":2.85,"hi":6.5},{"v":15.1,"t":10,"lo":2.5,"hi":5.6},{"v":15.1,"t":10.5,"lo":2.2,"hi":5.2},{"v":15.1,"t":11,"lo":1.8,"hi":6},{"v":15.1,"t":11.5,"lo":1.5,"hi":6},{"v":15.1,"t":12,"lo":1.2,"hi":4.2},{"v":15.1,"t":12.5,"lo":1.1,"hi":3.8},{"v":15.1,"t":13,"lo":1,"hi":3.6},{"v":15.1,"t":13.4,"lo":1,"hi":2},{"v":15.1,"t":13.9,"lo":1,"hi":1},
{"v":18,"t":0,"lo":7.65,"hi":13.2},{"v":18,"t":0.35,"lo":7.65,"hi":13},{"v":18,"t":0.7,"lo":7.65,"hi":13.45},{"v":18,"t":1.1,"lo":7.65,"hi":13.05},{"v":18,"t":3,"lo":7.65,"hi":13.1},{"v":18,"t":5,"lo":7.65,"hi":13.15},{"v":18,"t":7,"lo":7.65,"hi":13.05},{"v":18,"t":9,"lo":7.65,"hi":13.1},{"v":18,"t":11,"lo":7.65,"hi":13.1},{"v":18,"t":13,"lo":7.65,"hi":13.1},{"v":18,"t":14.77,"lo":7.65,"hi":13.2},
{"v":21,"t":0,"lo":7.8,"hi":12.9},{"v":21,"t":0.35,"lo":7.8,"hi":12.7},{"v":21,"t":0.7,"lo":7.8,"hi":13.15},{"v":21,"t":1.1,"lo":7.8,"hi":12.75},{"v":21,"t":3,"lo":7.8,"hi":12.8},{"v":21,"t":5,"lo":7.8,"hi":12.85},{"v":21,"t":7,"lo":7.8,"hi":12.75},{"v":21,"t":9,"lo":7.8,"hi":12.8},{"v":21,"t":11,"lo":7.8,"hi":12.8},{"v":21,"t":13,"lo":7.8,"hi":12.8},{"v":21,"t":14.77,"lo":7.8,"hi":12.9},
{"v":21.1,"t":3,"lo":7.7,"hi":8.05},{"v":21.1,"t":4,"lo":6.7,"hi":8.2},{"v":21.1,"t":5,"lo":5.95,"hi":8.2},{"v":21.1,"t":6,"lo":5.3,"hi":8.2},{"v":21.1,"t":7,"lo":4.65,"hi":8.2},{"v":21.1,"t":7.5,"lo":4.35,"hi":8.2},{"v":21.1,"t":8,"lo":4.1,"hi":7.95},{"v":21.1,"t":8.5,"lo":3.75,"hi":7.45},{"v":21.1,"t":9,"lo":3.4,"hi":6.9},{"v":21.1,"t":9.5,"lo":3.1,"hi":6.2},{"v":21.1,"t":10,"lo":2.75,"hi":5.3},{"v":21.1,"t":10.5,"lo":2.45,"hi":4.9},{"v":21.1,"t":11,"lo":2.05,"hi":5.6},{"v":21.1,"t":11.5,"lo":1.75,"hi":5.6},{"v":21.1,"t":12,"lo":1.45,"hi":3.8},{"v":21.1,"t":12.5,"lo":1.35,"hi":3.45},{"v":21.1,"t":13,"lo":1.25,"hi":3.25},{"v":21.1,"t":13.4,"lo":1,"hi":1.5},{"v":21.1,"t":13.6,"lo":1,"hi":1},
{"v":24,"t":0,"lo":7.9,"hi":12.65},{"v":24,"t":0.35,"lo":7.9,"hi":12.45},{"v":24,"t":0.7,"lo":7.9,"hi":12.9},{"v":24,"t":1.1,"lo":7.9,"hi":12.5},{"v":24,"t":3,"lo":7.9,"hi":12.55},{"v":24,"t":5,"lo":7.9,"hi":12.6},{"v":24,"t":7,"lo":7.9,"hi":12.5},{"v":24,"t":9,"lo":7.9,"hi":12.55},{"v":24,"t":11,"lo":7.9,"hi":12.55},{"v":24,"t":13,"lo":7.9,"hi":12.55},{"v":24,"t":14.77,"lo":7.9,"hi":12.65},
{"v":27,"t":0,"lo":8,"hi":12.4},{"v":27,"t":0.35,"lo":8,"hi":12.2},{"v":27,"t":0.7,"lo":8,"hi":12.65},{"v":27,"t":1.1,"lo":8,"hi":12.25},{"v":27,"t":3,"lo":8,"hi":12.3},{"v":27,"t":5,"lo":8,"hi":12.35},{"v":27,"t":7,"lo":8,"hi":12.25},{"v":27,"t":9,"lo":8,"hi":12.3},{"v":27,"t":11,"lo":8,"hi":12.3},{"v":27,"t":13,"lo":8,"hi":12.3},{"v":27,"t":14.77,"lo":8,"hi":12.4},
{"v":27.1,"t":3,"lo":7.95,"hi":8.1},{"v":27.1,"t":4,"lo":6.95,"hi":8.2},{"v":27.1,"t":5,"lo":6.2,"hi":8.2},{"v":27.1,"t":6,"lo":5.55,"hi":8.2},{"v":27.1,"t":7,"lo":4.9,"hi":8.2},{"v":27.1,"t":7.5,"lo":4.6,"hi":8.2},{"v":27.1,"t":8,"lo":4.35,"hi":7.7},{"v":27.1,"t":8.5,"lo":4,"hi":7.2},{"v":27.1,"t":9,"lo":3.65,"hi":6.6},{"v":27.1,"t":9.5,"lo":3.35,"hi":5.9},{"v":27.1,"t":10,"lo":3,"hi":5},{"v":27.1,"t":10.5,"lo":2.7,"hi":4.6},{"v":27.1,"t":11,"lo":2.3,"hi":5.2},{"v":27.1,"t":11.5,"lo":2,"hi":5.2},{"v":27.1,"t":12,"lo":1.7,"hi":3.4},{"v":27.1,"t":12.5,"lo":1.6,"hi":3.1},{"v":27.1,"t":13,"lo":1.5,"hi":2.9},{"v":27.1,"t":13.4,"lo":1,"hi":1},
{"v":30,"t":0,"lo":8.1,"hi":12.1},{"v":30,"t":0.35,"lo":8.1,"hi":11.9},{"v":30,"t":0.7,"lo":8.1,"hi":12.35},{"v":30,"t":1.1,"lo":8.1,"hi":11.95},{"v":30,"t":3,"lo":8.1,"hi":12},{"v":30,"t":5,"lo":8.1,"hi":12.05},{"v":30,"t":7,"lo":8.1,"hi":11.95},{"v":30,"t":9,"lo":8.1,"hi":12},{"v":30,"t":11,"lo":8.1,"hi":12},{"v":30,"t":13,"lo":8.1,"hi":12},{"v":30,"t":14.77,"lo":8.1,"hi":12.1},
{"v":33,"t":0,"lo":8.2,"hi":11.85},{"v":33,"t":0.35,"lo":8.2,"hi":11.65},{"v":33,"t":0.7,"lo":8.2,"hi":12.1},{"v":33,"t":1.1,"lo":8.2,"hi":11.7},{"v":33,"t":3,"lo":8.2,"hi":11.75},{"v":33,"t":5,"lo":8.2,"hi":11.8},{"v":33,"t":7,"lo":8.2,"hi":11.7},{"v":33,"t":9,"lo":8.2,"hi":11.75},{"v":33,"t":11,"lo":8.2,"hi":11.75},{"v":33,"t":13,"lo":8.2,"hi":11.75},{"v":33,"t":14.77,"lo":8.2,"hi":11.85},
{"v":33.1,"t":3.4,"lo":8.1,"hi":8.1},{"v":33.1,"t":4,"lo":7.15,"hi":8.3},{"v":33.1,"t":5,"lo":6.4,"hi":8.3},{"v":33.1,"t":6,"lo":5.75,"hi":8.3},{"v":33.1,"t":7,"lo":5.1,"hi":8.2},{"v":33.1,"t":7.5,"lo":4.8,"hi":7.9},{"v":33.1,"t":8,"lo":4.55,"hi":7.3},{"v":33.1,"t":8.5,"lo":4.2,"hi":6.9},{"v":33.1,"t":9,"lo":3.85,"hi":6.3},{"v":33.1,"t":9.5,"lo":3.55,"hi":5.6},{"v":33.1,"t":10,"lo":3.2,"hi":4.6},{"v":33.1,"t":10.5,"lo":2.9,"hi":4.2},{"v":33.1,"t":11,"lo":2.5,"hi":4.6},{"v":33.1,"t":11.5,"lo":2.2,"hi":4.6},{"v":33.1,"t":12,"lo":1.9,"hi":3},{"v":33.1,"t":12.5,"lo":1.72,"hi":2.75},{"v":33.1,"t":13,"lo":1.62,"hi":2.5},{"v":33.1,"t":13.3,"lo":1.6,"hi":1.6},
{"v":36,"t":0,"lo":8.28,"hi":11.6},{"v":36,"t":0.35,"lo":8.28,"hi":11.4},{"v":36,"t":0.7,"lo":8.28,"hi":11.8},{"v":36,"t":1.1,"lo":8.28,"hi":11.45},{"v":36,"t":3,"lo":8.28,"hi":11.5},{"v":36,"t":5,"lo":8.28,"hi":11.55},{"v":36,"t":7,"lo":8.28,"hi":11.45},{"v":36,"t":9,"lo":8.28,"hi":11.5},{"v":36,"t":11,"lo":8.28,"hi":11.5},{"v":36,"t":13,"lo":8.28,"hi":11.5},{"v":36,"t":14.77,"lo":8.28,"hi":11.6},
{"v":40,"t":0,"lo":8.37,"hi":11.2},{"v":40,"t":0.35,"lo":8.37,"hi":11},{"v":40,"t":0.7,"lo":8.37,"hi":11.35},{"v":40,"t":1.1,"lo":8.37,"hi":11.05},{"v":40,"t":3,"lo":8.37,"hi":11.1},{"v":40,"t":5,"lo":8.37,"hi":11.15},{"v":40,"t":7,"lo":8.37,"hi":11.05},{"v":40,"t":9,"lo":8.37,"hi":11.1},{"v":40,"t":11,"lo":8.37,"hi":11.1},{"v":40,"t":13,"lo":8.37,"hi":11.1},{"v":40,"t":14.77,"lo":8.37,"hi":11.2},
{"v":40.1,"t":3.4,"lo":8.2,"hi":8.2},{"v":40.1,"t":3.8,"lo":7.7,"hi":8.3},{"v":40.1,"t":4.1,"lo":7.85,"hi":8.3},{"v":40.1,"t":4.4,"lo":7.55,"hi":8.3},{"v":40.1,"t":4.7,"lo":7.8,"hi":8.3},{"v":40.1,"t":5,"lo":7.4,"hi":8.3},{"v":40.1,"t":5.3,"lo":7.9,"hi":8.3},{"v":40.1,"t":5.5,"lo":8.2,"hi":8.2},
{"v":40.2,"t":5.8,"lo":7,"hi":7},{"v":40.2,"t":6,"lo":6.2,"hi":7.9},{"v":40.2,"t":6.2,"lo":7,"hi":7},
{"v":40.3,"t":6.4,"lo":7,"hi":7},{"v":40.3,"t":6.6,"lo":6.5,"hi":7.6},{"v":40.3,"t":6.8,"lo":7,"hi":7},
{"v":40.4,"t":6.85,"lo":7,"hi":7},{"v":40.4,"t":7.05,"lo":5.9,"hi":8.1},{"v":40.4,"t":7.25,"lo":7,"hi":7},
{"v":40.5,"t":7.2,"lo":6,"hi":6},{"v":40.5,"t":7.4,"lo":5.45,"hi":6.55},{"v":40.5,"t":7.7,"lo":5.6,"hi":6.3},{"v":40.5,"t":7.96,"lo":5.45,"hi":6.55},{"v":40.5,"t":8.2,"lo":6,"hi":6},
{"v":40.6,"t":8.3,"lo":5.7,"hi":5.7},{"v":40.6,"t":8.5,"lo":4.85,"hi":6.7},{"v":40.6,"t":8.7,"lo":5.5,"hi":5.5},
{"v":40.7,"t":8.6,"lo":5,"hi":5},{"v":40.7,"t":8.8,"lo":4.5,"hi":5.6},{"v":40.7,"t":9,"lo":4.6,"hi":5.3},{"v":40.7,"t":9.2,"lo":4.4,"hi":5.6},{"v":40.7,"t":9.4,"lo":5,"hi":5},
{"v":40.8,"t":9.4,"lo":4.3,"hi":4.3},{"v":40.8,"t":9.7,"lo":3.8,"hi":4.7},{"v":40.8,"t":10,"lo":3.6,"hi":4.4},{"v":40.8,"t":10.3,"lo":3.7,"hi":3.7},
{"v":40.9,"t":11,"lo":3.1,"hi":3.1},{"v":40.9,"t":11.2,"lo":2.5,"hi":4.2},{"v":40.9,"t":11.4,"lo":3,"hi":3.4},{"v":40.9,"t":11.6,"lo":2.5,"hi":4.1},{"v":40.9,"t":11.85,"lo":2.9,"hi":2.9},
{"v":40.95,"t":11.9,"lo":2.2,"hi":2.2},{"v":40.95,"t":12.1,"lo":1.75,"hi":2.7},{"v":40.95,"t":12.35,"lo":1.9,"hi":2.2},{"v":40.95,"t":12.6,"lo":1.75,"hi":2.6},{"v":40.95,"t":13,"lo":1.75,"hi":2.4},{"v":40.95,"t":13.2,"lo":1.95,"hi":1.95},
{"v":43.1,"t":6.45,"lo":7,"hi":7},{"v":43.1,"t":6.6,"lo":6.75,"hi":7.25},{"v":43.1,"t":6.75,"lo":7,"hi":7},
{"v":43.2,"t":7.81,"lo":6,"hi":6},{"v":43.2,"t":7.96,"lo":5.75,"hi":6.25},{"v":43.2,"t":8.11,"lo":6,"hi":6},
{"v":43.3,"t":8.65,"lo":5,"hi":5},{"v":43.3,"t":8.8,"lo":4.75,"hi":5.25},{"v":43.3,"t":8.95,"lo":5,"hi":5},
{"v":43.4,"t":9.05,"lo":5,"hi":5},{"v":43.4,"t":9.2,"lo":4.75,"hi":5.25},{"v":43.4,"t":9.35,"lo":5,"hi":5},
{"v":43.5,"t":11.45,"lo":3.05,"hi":3.05},{"v":43.5,"t":11.6,"lo":2.8,"hi":3.3},{"v":43.5,"t":11.75,"lo":3.05,"hi":3.05},
{"v":44,"t":0,"lo":8.5,"hi":10.95},{"v":44,"t":0.35,"lo":8.5,"hi":10.75},{"v":44,"t":0.7,"lo":8.5,"hi":11.1},{"v":44,"t":1.1,"lo":8.5,"hi":10.8},{"v":44,"t":3,"lo":8.5,"hi":10.85},{"v":44,"t":5,"lo":8.5,"hi":10.9},{"v":44,"t":7,"lo":8.5,"hi":10.8},{"v":44,"t":9,"lo":8.5,"hi":10.85},{"v":44,"t":11,"lo":8.5,"hi":10.85},{"v":44,"t":13,"lo":8.5,"hi":10.85},{"v":44,"t":14.77,"lo":8.5,"hi":10.95},
{"v":46.1,"t":5.85,"lo":7,"hi":7},{"v":46.1,"t":6,"lo":6.7,"hi":7.3},{"v":46.1,"t":6.15,"lo":7,"hi":7},
{"v":46.2,"t":7.25,"lo":6,"hi":6},{"v":46.2,"t":7.4,"lo":5.8,"hi":6.2},{"v":46.2,"t":7.55,"lo":6,"hi":6},
{"v":46.3,"t":11.05,"lo":3.1,"hi":3.1},{"v":46.3,"t":11.2,"lo":2.8,"hi":3.4},{"v":46.3,"t":11.35,"lo":3.1,"hi":3.1},
{"v":48,"t":0,"lo":8.62,"hi":10.7},{"v":48,"t":0.35,"lo":8.62,"hi":10.55},{"v":48,"t":0.7,"lo":8.62,"hi":10.85},{"v":48,"t":1.1,"lo":8.62,"hi":10.6},{"v":48,"t":3,"lo":8.62,"hi":10.65},{"v":48,"t":5,"lo":8.62,"hi":10.7},{"v":48,"t":7,"lo":8.62,"hi":10.6},{"v":48,"t":9,"lo":8.62,"hi":10.65},{"v":48,"t":11,"lo":8.62,"hi":10.65},{"v":48,"t":13,"lo":8.62,"hi":10.65},{"v":48,"t":14.77,"lo":8.62,"hi":10.7},
{"v":52,"t":0,"lo":8.72,"hi":10.35},{"v":52,"t":0.35,"lo":8.72,"hi":10.2},{"v":52,"t":0.7,"lo":8.72,"hi":10.5},{"v":52,"t":1.1,"lo":8.72,"hi":10.25},{"v":52,"t":3,"lo":8.72,"hi":10.3},{"v":52,"t":5,"lo":8.72,"hi":10.35},{"v":52,"t":7,"lo":8.72,"hi":10.25},{"v":52,"t":9,"lo":8.72,"hi":10.3},{"v":52,"t":11,"lo":8.72,"hi":10.3},{"v":52,"t":13,"lo":8.72,"hi":10.3},{"v":52,"t":14.77,"lo":8.72,"hi":10.35},
{"v":56,"t":0.1,"lo":9,"hi":10.05},{"v":56,"t":0.7,"lo":9,"hi":10},{"v":56,"t":1.1,"lo":8.85,"hi":10},{"v":56,"t":3,"lo":8.85,"hi":10.05},{"v":56,"t":4,"lo":8.95,"hi":9.9},{"v":56,"t":5.5,"lo":9,"hi":9.95},{"v":56,"t":7,"lo":9.1,"hi":9.8},{"v":56,"t":9,"lo":9.1,"hi":9.85},{"v":56,"t":11,"lo":9.2,"hi":9.7},{"v":56,"t":13,"lo":9.3,"hi":9.6},{"v":56,"t":14.77,"lo":9.4,"hi":9.5},
{"v":60,"t":1,"lo":9.3,"hi":9.3},{"v":60,"t":1.5,"lo":8.9,"hi":9.75},{"v":60,"t":3,"lo":8.9,"hi":9.75},{"v":60,"t":3.6,"lo":9.25,"hi":9.3},
{"v":63,"t":2,"lo":9.2,"hi":9.2},{"v":63,"t":2.6,"lo":8.95,"hi":9.4},{"v":63,"t":3.2,"lo":9.2,"hi":9.2}]},
"concat":[
{"hconcat":[{"title":{"text":"(a)","dx":-23},"width":424,"height":244,"data":{"name":"a"},"mark":{"type":"area","interpolate":"monotone"},"encoding":{"x":{"field":"t","type":"quantitative","scale":{"domain":[0,15],"nice":false},"axis":{"values":[0,5,10,15],"title":"Time [s]","titleX":207,"labelPadding":8,"titlePadding":8}},"y":{"field":"lo","type":"quantitative","scale":{"domain":[1,17],"nice":false},"axis":{"values":[4,8,12,16],"title":"Critical bands [bark]","titleFontSize":24,"labelPadding":7,"titlePadding":5}},"y2":{"field":"hi"},"detail":{"field":"v"},"color":{"field":"v","type":"quantitative","legend":null,"scale":{"interpolate":"rgb","domain":[0,12,27,40,52,65],"range":["#000000","#0000ff","#ff00ff","#ff0000","#ffff00","#ffffff"]}}}},
{"width":13,"height":244,"data":{"name":"bar"},"transform":[{"filter":"datum.v < 65"}],"mark":"rect","view":{"stroke":"#999"},"encoding":{"y":{"field":"v","type":"quantitative","scale":{"domain":[0,65],"nice":false},"axis":{"orient":"right","values":[0,20,40,60],"labelFont":"Liberation Sans","labelColor":"#262626","labelPadding":6,"domain":false,"title":"Specific loudness [sone]","titleFontSize":24,"titleAngle":270,"titlePadding":27}},"y2":{"field":"v2"},"color":{"field":"v","type":"quantitative","legend":null,"scale":{"interpolate":"rgb","domain":[0,12,27,40,52,65],"range":["#000000","#0000ff","#ff00ff","#ff0000","#ffff00","#ffffff"]}}}}],"resolve":{"scale":{"color":"independent"}}},
{"hconcat":[{"title":{"text":"(b)","dx":-8},"width":424,"height":244,"data":{"name":"b"},"mark":{"type":"area","interpolate":"monotone"},"encoding":{"x":{"field":"t","type":"quantitative","scale":{"domain":[0,15],"nice":false},"axis":{"values":[0,5,10,15],"title":"Time [s]","titleX":205,"labelPadding":8,"titlePadding":8}},"y":{"field":"lo","type":"quantitative","scale":{"domain":[1,17],"nice":false},"axis":{"values":[4,8,12,16],"title":"Critical bands [bark]","titleFontSize":24,"labelPadding":7,"titlePadding":5}},"y2":{"field":"hi"},"detail":{"field":"v"},"color":{"field":"v","type":"quantitative","legend":null,"scale":{"interpolate":"rgb","domain":[0,12,27,40,52,65],"range":["#000000","#0000ff","#ff00ff","#ff0000","#ffff00","#ffffff"]}}}},
{"width":13,"height":244,"data":{"name":"bar"},"transform":[{"filter":"datum.v < 65"}],"mark":"rect","view":{"stroke":"#999"},"encoding":{"y":{"field":"v","type":"quantitative","scale":{"domain":[0,65],"nice":false},"axis":{"orient":"right","values":[0,20,40,60],"labelFont":"Liberation Sans","labelColor":"#262626","labelPadding":6,"domain":false,"title":"Specific loudness [sone]","titleFontSize":24,"titleAngle":270,"titlePadding":27}},"y2":{"field":"v2"},"color":{"field":"v","type":"quantitative","legend":null,"scale":{"interpolate":"rgb","domain":[0,12,27,40,52,65],"range":["#000000","#0000ff","#ff00ff","#ff0000","#ffff00","#ffffff"]}}}}],"resolve":{"scale":{"color":"independent"}}},
{"hconcat":[{"title":{"text":"(c)","dx":-23},"width":424,"height":244,"data":{"name":"c"},"mark":{"type":"area","interpolate":"monotone"},"encoding":{"x":{"field":"t","type":"quantitative","scale":{"domain":[0,15],"nice":false},"axis":{"values":[0,5,10,15],"title":"Time [s]","titleX":207,"labelPadding":8,"titlePadding":8}},"y":{"field":"lo","type":"quantitative","scale":{"domain":[1,17],"nice":false},"axis":{"values":[4,8,12,16],"title":"Critical bands [bark]","titleFontSize":24,"labelPadding":7,"titlePadding":5}},"y2":{"field":"hi"},"detail":{"field":"v"},"color":{"field":"v","type":"quantitative","legend":null,"scale":{"interpolate":"rgb","domain":[0,12,27,40,52,65.5],"range":["#000000","#0000ff","#ff00ff","#ff0000","#ffff00","#ffffff"]}}}},
{"width":13,"height":244,"data":{"name":"bar"},"mark":"rect","view":{"stroke":"#999"},"encoding":{"y":{"field":"v","type":"quantitative","scale":{"domain":[0,65.5],"nice":false},"axis":{"orient":"right","values":[0,20,40,60],"labelFont":"Liberation Sans","labelColor":"#262626","labelPadding":6,"domain":false,"title":"Specific loudness [sone]","titleFontSize":24,"titleAngle":270,"titlePadding":27}},"y2":{"field":"v2"},"color":{"field":"v","type":"quantitative","legend":null,"scale":{"interpolate":"rgb","domain":[0,12,27,40,52,65.5],"range":["#000000","#0000ff","#ff00ff","#ff0000","#ffff00","#ffffff"]}}}}],"resolve":{"scale":{"color":"independent"}}},
{"hconcat":[{"title":{"text":"(d)","dx":-8},"width":424,"height":244,"data":{"name":"d"},"mark":{"type":"area","interpolate":"monotone"},"encoding":{"x":{"field":"t","type":"quantitative","scale":{"domain":[0,15],"nice":false},"axis":{"values":[0,5,10,15],"title":"Time [s]","titleX":205,"labelPadding":8,"titlePadding":8}},"y":{"field":"lo","type":"quantitative","scale":{"domain":[1,17],"nice":false},"axis":{"values":[4,8,12,16],"title":"Critical bands [bark]","titleFontSize":24,"labelPadding":7,"titlePadding":5}},"y2":{"field":"hi"},"detail":{"field":"v"},"color":{"field":"v","type":"quantitative","legend":null,"scale":{"interpolate":"rgb","domain":[0,12,27,40,52,65.5],"range":["#000000","#0000ff","#ff00ff","#ff0000","#ffff00","#ffffff"]}}}},
{"width":13,"height":244,"data":{"name":"bar"},"mark":"rect","view":{"stroke":"#999"},"encoding":{"y":{"field":"v","type":"quantitative","scale":{"domain":[0,65.5],"nice":false},"axis":{"orient":"right","values":[0,20,40,60],"labelFont":"Liberation Sans","labelColor":"#262626","labelPadding":6,"domain":false,"title":"Specific loudness [sone]","titleFontSize":24,"titleAngle":270,"titlePadding":27}},"y2":{"field":"v2"},"color":{"field":"v","type":"quantitative","legend":null,"scale":{"interpolate":"rgb","domain":[0,12,27,40,52,65.5],"range":["#000000","#0000ff","#ff00ff","#ff0000","#ffff00","#ffffff"]}}}}],"resolve":{"scale":{"color":"independent"}}}
],
"resolve":{"scale":{"color":"independent"}}}
